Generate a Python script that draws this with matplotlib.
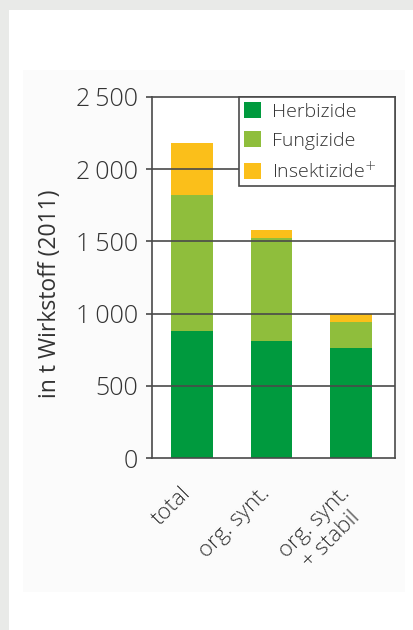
import matplotlib
matplotlib.use("Agg")
import matplotlib.pyplot as plt
import matplotlib.transforms as mtransforms
from matplotlib.patches import Rectangle
import numpy as np

plt.rcParams['font.family'] = ['Open Sans', 'DejaVu Sans']
plt.rcParams['font.weight'] = 'light'

# Daten (t Wirkstoff, 2011)
kategorien = ["total", "org. synt.", "org. synt.\n+ stabil"]
herbizide = [880, 810, 760]
fungizide = [940, 715, 185]
insektizide = [360, 55, 50]
serien = ["Herbizide", "Fungizide", "Insektizide$^{+}$"]
yticks = [0, 500, 1000, 1500, 2000, 2500]
ytick_labels = ["0", "500", "1\u2009000", "1\u2009500", "2\u2009000", "2\u2009500"]

c_herb = "#009a3e"
c_fung = "#8fbe3c"
c_ins = "#fbbf1a"
c_line = "#4a4a4a"
c_text = "#333333"

fig = plt.figure(figsize=(4.13, 6.30), dpi=100)
fig.patch.set_facecolor("#e9eae8")
fig.patches.append(Rectangle((9/413, 0), 1, 1 - 10/630, transform=fig.transFigure,
                             facecolor="white", edgecolor="none", zorder=-2))
fig.patches.append(Rectangle((23/413, 1 - 592/630), (405 - 23)/413, (592 - 70)/630,
                             transform=fig.transFigure, facecolor="#fbfbfb",
                             edgecolor="none", zorder=-1))

ax = fig.add_axes([152/413, 1 - 458/630, (395 - 152)/413, (458 - 97)/630])
ax.set_facecolor("white")

x = np.arange(len(kategorien))
w = 0.52
h = np.array(herbizide)
f = np.array(fungizide)
i = np.array(insektizide)
ax.bar(x, h, w, color=c_herb, label=serien[0], zorder=1)
ax.bar(x, f, w, bottom=h, color=c_fung, label=serien[1], zorder=1)
ax.bar(x, i, w, bottom=h + f, color=c_ins, label=serien[2], zorder=1)

ax.set_xlim(-0.5, 2.55)
ax.set_ylim(0, 2500)
ax.set_yticks(yticks)
ax.set_yticklabels(ytick_labels, fontsize=18, color=c_text)
for yv in yticks[1:-1]:
    ax.axhline(yv, color=c_line, lw=1.2, zorder=2)
ax.tick_params(axis="y", length=4, width=1.2, color=c_line, pad=6)
ax.tick_params(axis="x", length=0, pad=18)
for s in ax.spines.values():
    s.set_color(c_line)
    s.set_linewidth(1.2)

ax.set_xticks(x)
ax.set_xticklabels(kategorien, rotation=45, ha="right", va="top",
                   rotation_mode="anchor", fontsize=16, color=c_text,
                   multialignment="center")
shift = mtransforms.ScaledTranslation(-12/100, 0, fig.dpi_scale_trans)
for lab in ax.get_xticklabels():
    lab.set_transform(lab.get_transform() + shift)

ax.set_ylabel("in t Wirkstoff (2011)", fontsize=16.5, color=c_text)
ax.yaxis.set_label_coords(-0.37, 0.455)

leg = ax.legend(loc="upper left", bbox_to_anchor=(0.358, 0, 0.642, 1),
                mode="expand", borderaxespad=0, fancybox=False,
                edgecolor=c_line, framealpha=1, fontsize=14,
                handlelength=0.9, handleheight=0.9, handletextpad=0.55,
                labelspacing=0.55, borderpad=0.25)
leg.get_frame().set_linewidth(1.2)
leg.set_zorder(5)
for t in leg.get_texts():
    t.set_color(c_text)

fig.savefig("out.png", dpi=100, facecolor=fig.get_facecolor())
